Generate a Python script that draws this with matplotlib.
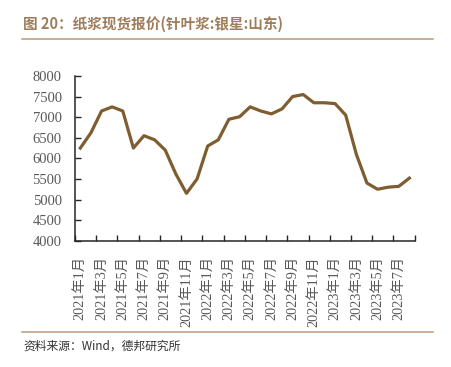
import matplotlib
matplotlib.use("Agg")
import matplotlib.pyplot as plt
from matplotlib.lines import Line2D

plt.rcParams['font.serif'] = ['Liberation Serif', 'DejaVu Serif']
plt.rcParams['font.family'] = ['serif', 'Noto Sans CJK SC']

# 纸浆现货报价(针叶浆:银星:山东), 元/吨, 2021-01 .. 2023-08
months = [f"{y}年{m}月" for y in (2021, 2022, 2023) for m in range(1, 13)][:32]
prices = [6250, 6620, 7150, 7250, 7150, 6250, 6550, 6450,
          6200, 5620, 5150, 5500, 6300, 6450, 6950, 7010,
          7250, 7150, 7080, 7200, 7500, 7550, 7350, 7350,
          7330, 7050, 6100, 5400, 5250, 5300, 5320, 5520]
yticks = list(range(4000, 8001, 500))

W, H = 451, 367
fig = plt.figure(figsize=(W / 100, H / 100), dpi=100)
ax = fig.add_axes([75 / W, 1 - 240.7 / H, (414.7 - 75) / W, (240.7 - 76) / H])

x = list(range(len(prices)))
ax.plot(x, prices, color='#7E5D31', lw=2.3, solid_joinstyle='round')

ax.set_ylim(4000, 8000)
ax.set_yticks(yticks)
ax.set_xlim(-0.5, len(prices) - 0.5)
# labels on every other month, tick marks between categories
ax.set_xticks(x[::2])
ax.set_xticklabels(months[::2], rotation=90)
ax.set_xticks([i - 0.5 for i in range(0, len(prices) + 1, 2)], minor=True)
ax.tick_params(axis='x', which='major', length=0, pad=11, labelsize=10.3,
               labelcolor='#595959')
ax.tick_params(axis='x', which='minor', direction='in', length=4, width=1, color='#262626')
ax.tick_params(axis='y', direction='in', length=4, width=1, color='#262626',
               labelsize=10.5, labelcolor='#595959', pad=9.5)

for s in ('top', 'right'):
    ax.spines[s].set_visible(False)
for s in ('left', 'bottom'):
    ax.spines[s].set_color('#262626')
    ax.spines[s].set_linewidth(1.1)

cjk = ['Noto Sans CJK SC', 'DejaVu Sans']
fig.text(23 / W, 1 - 24 / H, '图 20：纸浆现货报价(针叶浆:银星:山东)', family=cjk,
         fontsize=10.5, fontweight='bold', color='#9E7D5B', va='center', ha='left')
fig.text(23 / W, 1 - 346 / H, '资料来源：Wind，德邦研究所', family=cjk,
         fontsize=8.5, color='#333333', va='center', ha='left')

for yy in (39.3, 331.8):
    fig.add_artist(Line2D([22 / W, 433 / W], [1 - yy / H, 1 - yy / H],
                          transform=fig.transFigure, color='#B8987A', lw=1.1))

fig.savefig('out.png', dpi=100)
